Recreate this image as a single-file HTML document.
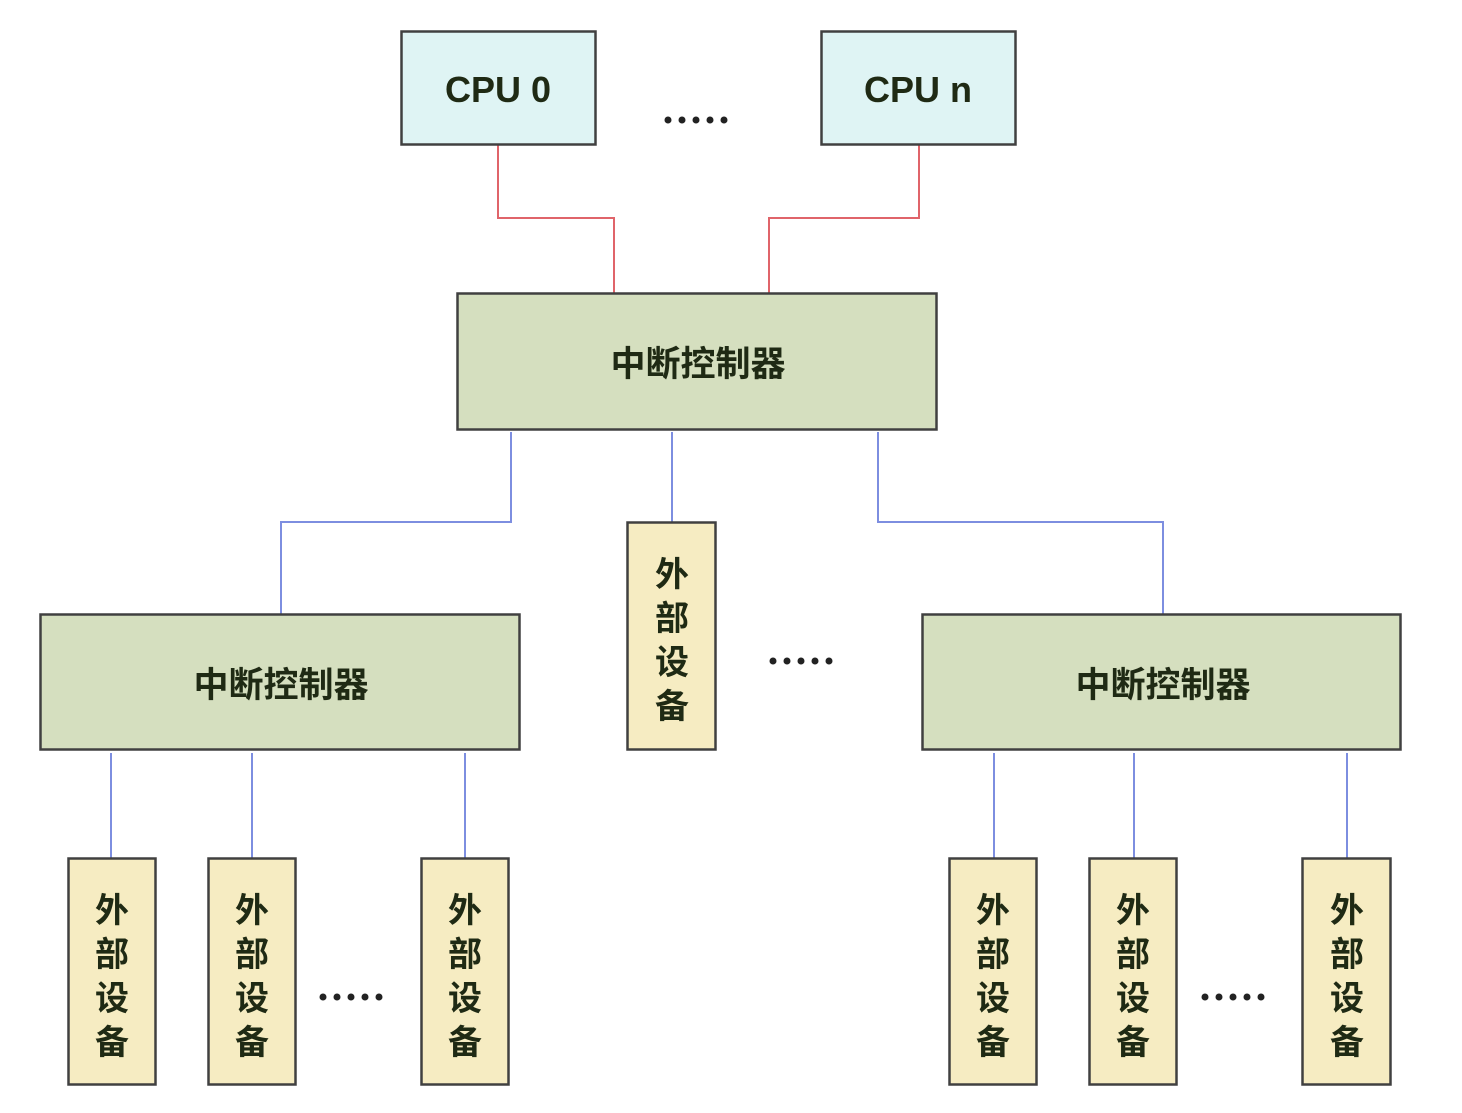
<!DOCTYPE html>
<html><head><meta charset="utf-8"><style>
html,body{margin:0;padding:0;background:#fff;}
svg{display:block;}
text{font-family:"Liberation Sans","Noto Sans CJK SC",sans-serif;font-weight:bold;fill:#1f2a14;}
</style></head><body>
<svg width="1462" height="1113" viewBox="0 0 1462 1113" xmlns="http://www.w3.org/2000/svg">
<g fill="none" stroke-width="2">
<polyline points="498,145 498,218 614,218 614,293" stroke="#e0646a"/>
<polyline points="919,145 919,218 769,218 769,293" stroke="#e0646a"/>
<polyline points="511,432 511,522 281,522 281,614" stroke="#7d8ee0"/>
<polyline points="672,432 672,522" stroke="#7d8ee0"/>
<polyline points="878,432 878,522 1163,522 1163,614" stroke="#7d8ee0"/>
<g stroke="#7d8ee0">
<line x1="111" y1="753" x2="111" y2="858"/>
<line x1="252" y1="753" x2="252" y2="858"/>
<line x1="465" y1="753" x2="465" y2="858"/>
<line x1="994" y1="753" x2="994" y2="858"/>
<line x1="1134" y1="753" x2="1134" y2="858"/>
<line x1="1347" y1="753" x2="1347" y2="858"/>
</g>
</g>
<g stroke="#404040" stroke-width="2.5">
<rect x="401.5" y="31.5" width="194" height="113" fill="#dff4f4"/>
<rect x="821.5" y="31.5" width="194" height="113" fill="#dff4f4"/>
<rect x="457.5" y="293.5" width="479" height="136" fill="#d5dfbf"/>
<rect x="40.5" y="614.5" width="479" height="135" fill="#d5dfbf"/>
<rect x="922.5" y="614.5" width="478" height="135" fill="#d5dfbf"/>
<g fill="#f6ecc2">
<rect x="627.5" y="522.5" width="88" height="227"/>
<rect x="68.5" y="858.5" width="87" height="226"/>
<rect x="208.5" y="858.5" width="87" height="226"/>
<rect x="421.5" y="858.5" width="87" height="226"/>
<rect x="949.5" y="858.5" width="87" height="226"/>
<rect x="1089.5" y="858.5" width="87" height="226"/>
<rect x="1302.5" y="858.5" width="88" height="226"/>
</g>
</g>
<g text-anchor="middle">
<text x="498" y="102" font-size="36">CPU 0</text>
<text x="918" y="102" font-size="36">CPU n</text>
<text x="698" y="376" font-size="35">中断控制器</text>
<text x="281" y="697" font-size="35">中断控制器</text>
<text x="1163" y="697" font-size="35">中断控制器</text>
</g>
<g fill="#222">
<g transform="translate(668,120)"><circle cx="0" cy="0" r="3.5"/><circle cx="14" cy="0" r="3.5"/><circle cx="28" cy="0" r="3.5"/><circle cx="42" cy="0" r="3.5"/><circle cx="56" cy="0" r="3.5"/></g>
<g transform="translate(773,661)"><circle cx="0" cy="0" r="3.5"/><circle cx="14" cy="0" r="3.5"/><circle cx="28" cy="0" r="3.5"/><circle cx="42" cy="0" r="3.5"/><circle cx="56" cy="0" r="3.5"/></g>
<g transform="translate(323,997)"><circle cx="0" cy="0" r="3.5"/><circle cx="14" cy="0" r="3.5"/><circle cx="28" cy="0" r="3.5"/><circle cx="42" cy="0" r="3.5"/><circle cx="56" cy="0" r="3.5"/></g>
<g transform="translate(1205,997)"><circle cx="0" cy="0" r="3.5"/><circle cx="14" cy="0" r="3.5"/><circle cx="28" cy="0" r="3.5"/><circle cx="42" cy="0" r="3.5"/><circle cx="56" cy="0" r="3.5"/></g>
</g>
<g font-size="34" text-anchor="middle">
<g transform="translate(672,0)"><text x="0" y="586">外</text><text x="0" y="630">部</text><text x="0" y="674">设</text><text x="0" y="718">备</text></g>
<g transform="translate(112,0)"><text x="0" y="922">外</text><text x="0" y="966">部</text><text x="0" y="1010">设</text><text x="0" y="1054">备</text></g>
<g transform="translate(252,0)"><text x="0" y="922">外</text><text x="0" y="966">部</text><text x="0" y="1010">设</text><text x="0" y="1054">备</text></g>
<g transform="translate(465,0)"><text x="0" y="922">外</text><text x="0" y="966">部</text><text x="0" y="1010">设</text><text x="0" y="1054">备</text></g>
<g transform="translate(993,0)"><text x="0" y="922">外</text><text x="0" y="966">部</text><text x="0" y="1010">设</text><text x="0" y="1054">备</text></g>
<g transform="translate(1133,0)"><text x="0" y="922">外</text><text x="0" y="966">部</text><text x="0" y="1010">设</text><text x="0" y="1054">备</text></g>
<g transform="translate(1347,0)"><text x="0" y="922">外</text><text x="0" y="966">部</text><text x="0" y="1010">设</text><text x="0" y="1054">备</text></g>
</g>
</svg>
</body></html>
